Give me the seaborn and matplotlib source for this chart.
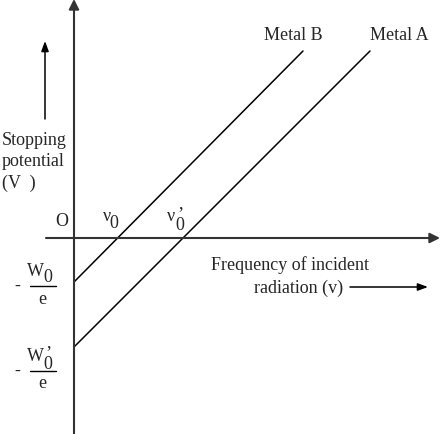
import pandas as pd
import matplotlib
matplotlib.use('Agg')
import matplotlib.pyplot as plt
import seaborn as sns

# Schematic values (origin at the axes crossing)
metal_b_freq = [0, 229]
metal_b_vs = [-43, 188]
metal_a_freq = [0, 296]
metal_a_vs = [-108, 188]
labels = ['Metal B', 'Metal A']

df = pd.concat([
    pd.DataFrame({'freq': metal_b_freq, 'vs': metal_b_vs, 'metal': labels[0]}),
    pd.DataFrame({'freq': metal_a_freq, 'vs': metal_a_vs, 'metal': labels[1]}),
])

sns.set_style('white')
plt.rcParams['font.family'] = ['Liberation Serif', 'DejaVu Serif']

fig = plt.figure(figsize=(4.4, 4.35), dpi=100)
ax = fig.add_axes([0, 0, 1, 1])
sns.lineplot(data=df, x='freq', y='vs', units='metal', estimator=None,
             color='black', lw=1.1, ax=ax, legend=False)
ax.set_xlim(-74, 366)
ax.set_ylim(-195, 240)
ax.axis('off')

# axes with arrows
axis_kw = dict(arrowstyle='-|>,head_length=0.6,head_width=0.3', color='#333333', lw=1.5,
               shrinkA=0, shrinkB=0)
ax.annotate('', xy=(0, 240), xytext=(0, -195), arrowprops=axis_kw)
ax.annotate('', xy=(366, 1), xytext=(-28, 1), arrowprops=axis_kw)

small_arrow = dict(arrowstyle='-|>,head_length=0.6,head_width=0.22', color='black', lw=1.1,
                   shrinkA=0, shrinkB=0)
ax.annotate('', xy=(-29, 198), xytext=(-29, 120), arrowprops=small_arrow)
ax.annotate('', xy=(354, -48), xytext=(276, -48), arrowprops=small_arrow)

fs = 13
ax.text(-72, 78, 'Stopping\npotential\n(V  )', fontsize=fs, ha='left', va='center',
        linespacing=1.3)
ax.text(-12, 18, 'O', fontsize=fs, ha='center', va='center')

# threshold frequencies
ax.text(33, 23, 'ν', fontsize=fs, ha='center', va='center')
ax.text(40, 16, '0', fontsize=fs, ha='center', va='center')
ax.text(97, 23, 'ν', fontsize=fs, ha='center', va='center')
ax.text(106, 20, '’\n0', fontsize=fs, ha='center', va='center', linespacing=0.55)

# work function intercepts
for y0, primed in [(-47, False), (-132, True)]:
    ax.text(-57, y0 + 1, '-', fontsize=fs, ha='center', va='center')
    ax.text(-39, y0 + 15, 'W', fontsize=fs, ha='center', va='center')
    if primed:
        ax.text(-26, y0 + 13, '’\n0', fontsize=fs, ha='center', va='center', linespacing=0.55)
    else:
        ax.text(-26, y0 + 10, '0', fontsize=fs, ha='center', va='center')
    ax.plot([-44, -18], [y0, y0], color='black', lw=1.0)
    ax.text(-32, y0 - 12, 'e', fontsize=fs, ha='center', va='center')

ax.text(216, -25, 'Frequency of incident', fontsize=fs, ha='center', va='center')
ax.text(225, -48, 'radiation (v)', fontsize=fs, ha='center', va='center')
ax.text(219, 205, labels[0], fontsize=fs, ha='center', va='center')
ax.text(325, 205, labels[1], fontsize=fs, ha='center', va='center')

fig.savefig('out.png', dpi=100)
